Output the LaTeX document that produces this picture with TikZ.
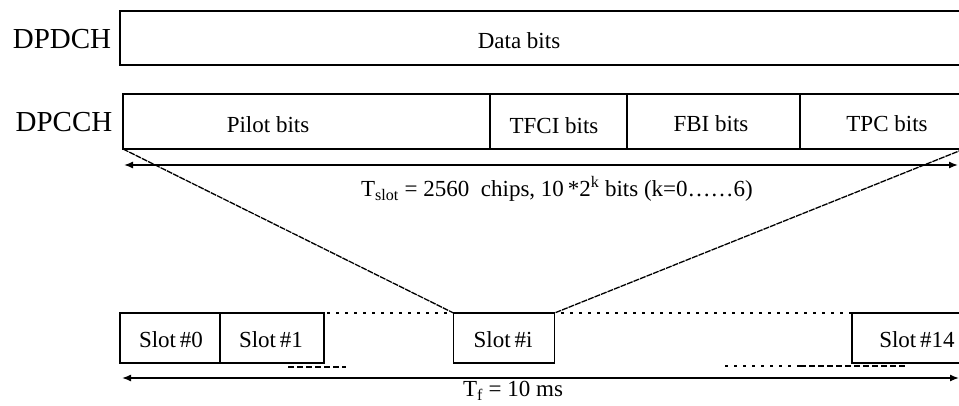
\documentclass[tikz,border=0pt]{standalone}
\usepackage{fontspec}
\setmainfont{Liberation Serif}
\usetikzlibrary{arrows.meta}
\tikzset{
  box/.style={draw, line width=1.6pt, rectangle, inner sep=0pt, outer sep=0pt},
  chlabel/.style={font=\fontsize{29}{31}\selectfont, inner sep=0pt},
  lbl/.style={font=\fontsize{23}{25}\selectfont, inner sep=0pt},
  span/.style={line width=1.4pt, {Latex[length=9pt,width=7pt]}-{Latex[length=9pt,width=7pt]}},
  fan/.style={line width=1.3pt, dash pattern=on 6pt off 1pt},
  dots/.style={line width=1.4pt, dash pattern=on 3pt off 6pt},
  dashes/.style={line width=1.4pt, dash pattern=on 6pt off 3pt}
}
\begin{document}
\begin{tikzpicture}[x=1pt,y=-1pt]
\useasboundingbox (0,0) rectangle (959,405);
\clip (0,0) rectangle (959,405);
\fill[white] (0,0) rectangle (959,405);
% labels
\node[chlabel] (dpdchl) at (62,39) {DPDCH};
\node[chlabel] (dpcchl) at (64,122) {DPCCH};
% DPDCH
\node[box, minimum width=844pt, minimum height=54pt] (data) at (542,38) {};
\node[lbl] (datat) at (519,41) {Data bits};
% DPCCH
\node[box, minimum width=367pt, minimum height=55pt] (pilot) at (306.5,121.5) {};
\node[lbl] (pilott) at (268,125) {Pilot bits};
\node[box, minimum width=137pt, minimum height=55pt] (tfci) at (558.5,121.5) {};
\node[lbl] (tfcit) at (554,126) {TFCI bits};
\node[box, minimum width=173pt, minimum height=55pt] (fbi) at (713.5,121.5) {};
\node[lbl] (fbit) at (711,124) {FBI bits};
\node[box, minimum width=164pt, minimum height=55pt] (tpc) at (882,121.5) {};
\node[lbl] (tpct) at (887,124) {TPC bits};
\draw[line width=2.4pt] (fbi.north west) -- (fbi.south west);
% slot span
\coordinate (tsl) at (124,165);
\coordinate (tsr) at (958,165);
\draw[span] (tsl) -- (tsr);
\node[lbl] (tslot) at (557,189) {T\textsubscript{slot} = 2560\ \ chips, 10\,*2\textsuperscript{k} bits (k=0……6)};
% slots
\node[box, minimum width=100pt, minimum height=50pt] (s0) at (170,338) {};
\node[lbl] (s0t) at (171,340) {Slot\,\#0};
\node[box, minimum width=104pt, minimum height=50pt] (s1) at (272,338) {};
\node[lbl] (s1t) at (271,340) {Slot\,\#1};
\draw[line width=2.6pt] (s1.north west) -- (s1.south west);
\node[box, minimum width=101pt, minimum height=50pt] (si) at (504,338) {};
\node[lbl] (sit) at (503,340) {Slot\,\#i};
\node[box, minimum width=114pt, minimum height=50pt] (s14) at (909,338) {};
\node[lbl] (s14t) at (917,340) {Slot\,\#14};
% fan lines
\draw[fan] (pilot.south west) -- (si.north west);
\draw[fan] (tpc.south east) -- (si.north east);
% dotted continuation
\coordinate (dt1) at (300,313);
\draw[dots] (dt1) -- (s14.north west);
\coordinate (db1) at (288,367);
\coordinate (db2) at (346,367);
\draw[dashes] (db1) -- (db2);
\coordinate (db3) at (725,366);
\coordinate (db5) at (800,366);
\coordinate (db4) at (905,366);
\draw[dots] (db3) -- (db5);
\draw[dashes] (db5) -- (db4);
% frame span
\coordinate (tfl) at (122,378);
\coordinate (tfr) at (959,378);
\draw[span] (tfl) -- (tfr);
\node[lbl] (tf) at (513,391) {T\textsubscript{f} = 10 ms};
\end{tikzpicture}
\end{document}
